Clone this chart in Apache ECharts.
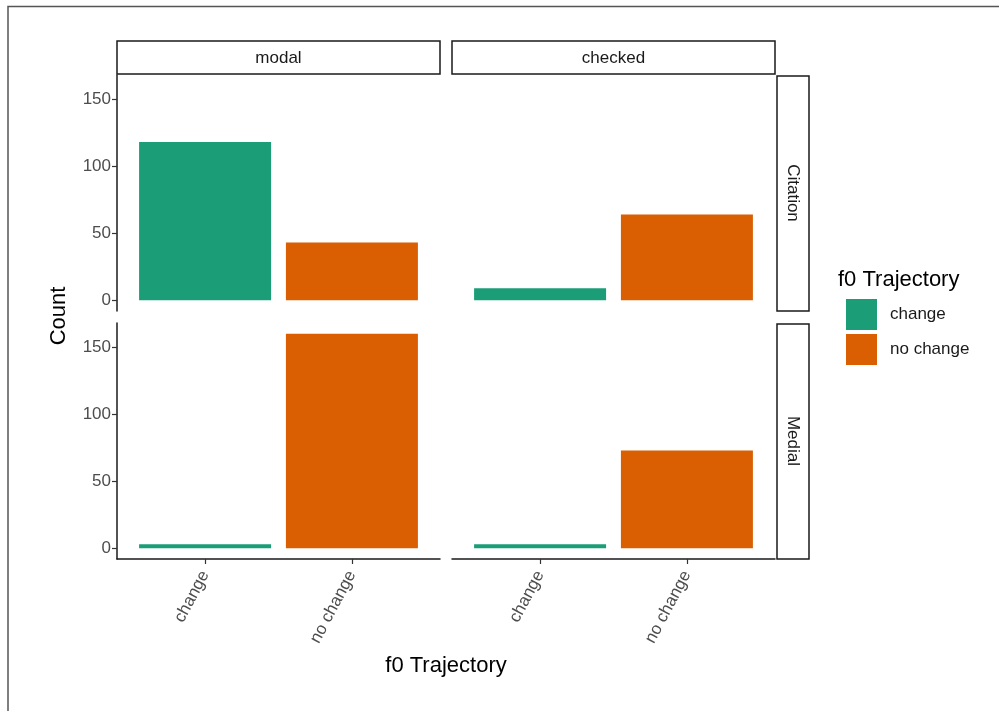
<!DOCTYPE html>
<html>
<head>
<meta charset="utf-8">
<style>
  html, body { margin: 0; padding: 0; background: #fff; }
  #chart { width: 999px; height: 711px; }
</style>
<script src="https://cdn.jsdelivr.net/npm/echarts@6/dist/echarts.min.js"></script>
</head>
<body>
<div id="chart"></div>
<script>
// Facet layout: columns = token type, rows = position
const facetCols = ['modal', 'checked'];
const facetRows = ['Citation', 'Medial'];
const categories = ['change', 'no change'];
const categoryColors = ['#1b9e77', '#d95f02'];

// Counts per panel, ordered as categories
const citationModal = [118, 43];
const citationChecked = [9, 64];
const medialModal = [3, 160];
const medialChecked = [3, 73];

const yTicks = [0, 50, 100, 150];
const yTitle = 'Count';
const xTitle = 'f0 Trajectory';
const legendTitle = 'f0 Trajectory';

const panelValues = [
  [citationModal, citationChecked],
  [medialModal, medialChecked]
];

const FONT = '"Liberation Sans", Arial, Helvetica, sans-serif';
const colLeft = [117, 452];
const colWidth = 323;
const rowTop = [75, 323];
const rowHeight = 236;

const grids = [], xAxes = [], yAxes = [], series = [];
let gi = 0;
for (let r = 0; r < 2; r++) {
  for (let c = 0; c < 2; c++) {
    const bottomRow = r === 1;
    const leftCol = c === 0;
    grids.push({ left: colLeft[c], top: rowTop[r], width: colWidth, height: rowHeight, containLabel: false });
    xAxes.push({
      gridIndex: gi, type: 'value', min: 0.4, max: 2.6,
      splitLine: { show: false },
      axisLine: { show: bottomRow, onZero: false, lineStyle: { color: '#1a1a1a', width: 1.5 } },
      axisTick: { show: bottomRow, customValues: [1, 2], length: 5, lineStyle: { color: '#333', width: 1.2 } },
      axisLabel: {
        show: bottomRow, customValues: [1, 2], rotate: 62, margin: 13,
        fontFamily: FONT, fontSize: 17, color: '#4d4d4d',
        formatter: v => categories[Math.round(v) - 1]
      }
    });
    yAxes.push({
      gridIndex: gi, type: 'value', min: -8, max: 168,
      splitLine: { show: false },
      axisLine: { show: leftCol, onZero: false, lineStyle: { color: '#1a1a1a', width: 1.5 } },
      axisTick: { show: leftCol, customValues: yTicks, length: 5, lineStyle: { color: '#333', width: 1.2 } },
      axisLabel: {
        show: leftCol, customValues: yTicks, margin: 6,
        fontFamily: FONT, fontSize: 17, color: '#4d4d4d'
      }
    });
    const vals = panelValues[r][c];
    categories.forEach((cat, k) => {
      series.push({
        type: 'bar', name: cat,
        xAxisIndex: gi, yAxisIndex: gi,
        data: [[k + 1, vals[k]]],
        barWidth: 132, barGap: '-100%',
        itemStyle: { color: categoryColors[k] },
        silent: true
      });
    });
    gi++;
  }
}

// Facet strips
const graphics = [];
facetCols.forEach((name, c) => {
  graphics.push({
    type: 'rect', shape: { x: colLeft[c], y: 41, width: colWidth, height: 33 },
    style: { fill: '#fff', stroke: '#1a1a1a', lineWidth: 1.5 }
  });
  graphics.push({
    type: 'text', x: colLeft[c] + colWidth / 2, y: 58,
    style: { text: name, fill: '#1a1a1a', font: '17px ' + FONT, textAlign: 'center', textVerticalAlign: 'middle' }
  });
});
facetRows.forEach((name, r) => {
  graphics.push({
    type: 'rect', shape: { x: 777, y: rowTop[r] + 1, width: 32, height: rowHeight - 1 },
    style: { fill: '#fff', stroke: '#1a1a1a', lineWidth: 1.5 }
  });
  graphics.push({
    type: 'text', x: 793, y: rowTop[r] + rowHeight / 2, rotation: -Math.PI / 2,
    style: { text: name, fill: '#1a1a1a', font: '17px ' + FONT, textAlign: 'center', textVerticalAlign: 'middle' }
  });
});
// Axis titles
graphics.push({
  type: 'text', x: 59, y: 316, rotation: Math.PI / 2,
  style: { text: yTitle, fill: '#000', font: '22px ' + FONT, textAlign: 'center', textVerticalAlign: 'middle' }
});
graphics.push({
  type: 'text', x: 446, y: 666,
  style: { text: xTitle, fill: '#000', font: '22px ' + FONT, textAlign: 'center', textVerticalAlign: 'middle' }
});
// Legend title
graphics.push({
  type: 'text', x: 838, y: 280,
  style: { text: legendTitle, fill: '#000', font: '22px ' + FONT, textAlign: 'left', textVerticalAlign: 'middle' }
});
// Outer frame
graphics.push({
  type: 'rect', shape: { x: 8, y: 6.5, width: 1200, height: 900 },
  style: { fill: 'none', stroke: '#555', lineWidth: 1.5 }
});

const chart = echarts.init(document.getElementById('chart'), null, { renderer: 'canvas' });
chart.setOption({
  animation: false,
  backgroundColor: '#fff',
  grid: grids,
  xAxis: xAxes,
  yAxis: yAxes,
  series: series,
  legend: {
    data: categories,
    orient: 'vertical', left: 846, top: 299, padding: 0,
    icon: 'rect', itemWidth: 31, itemHeight: 31, itemGap: 4,
    selectedMode: false,
    textStyle: { fontFamily: FONT, fontSize: 17, color: '#1a1a1a', padding: [0, 0, 0, 8] }
  },
  graphic: graphics
});
</script>
</body>
</html>
